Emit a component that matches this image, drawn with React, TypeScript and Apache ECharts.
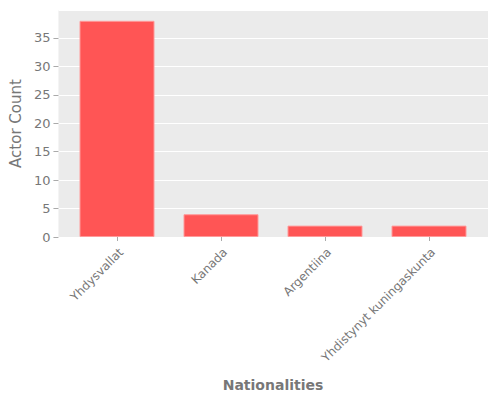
import * as echarts from "echarts";
import { useEffect, useRef } from "react";

const nationalities = ["Yhdysvallat", "Kanada", "Argentiina", "Yhdistynyt kuningaskunta"];
const actorCounts = [38, 4, 2, 2];
const yMax = 39.9;

const FONT = "DejaVu Sans";
const GRAY = "#777777";

export default function App() {
  const ref = useRef<HTMLDivElement | null>(null);

  useEffect(() => {
    if (!ref.current) {
      return;
    }
    const chart = echarts.init(ref.current, undefined, { renderer: "svg" });
    chart.setOption({
      animation: false,
      textStyle: { fontFamily: FONT },
      grid: [
        { show: true, backgroundColor: "#EBEBEB", borderWidth: 0, left: 58, right: 12, top: 10, bottom: 163 },
        { left: 65, right: 19, top: 10, bottom: 163 }
      ],
      xAxis: [
        { type: "category", gridIndex: 0, show: false, data: nationalities },
        {
          type: "category",
          gridIndex: 1,
          data: nationalities,
          name: "Nationalities",
          nameLocation: "middle",
          nameGap: 141,
          nameTextStyle: { fontFamily: FONT, fontSize: 14, fontWeight: "bold", color: GRAY },
          axisLine: { show: false },
          axisTick: { show: true, alignWithLabel: true, length: 4, lineStyle: { color: "#aaaaaa" } },
          axisLabel: {
            rotate: 45,
            fontFamily: FONT,
            fontSize: 12,
            color: GRAY,
            margin: 9,
            interval: 0,
            verticalAlign: "top"
          }
        }
      ],
      yAxis: [
        {
          type: "value",
          gridIndex: 0,
          min: 0,
          max: yMax,
          interval: 5,
          name: "Actor Count",
          nameLocation: "middle",
          nameGap: 28,
          nameTextStyle: { fontFamily: FONT, fontSize: 15, color: GRAY },
          axisLine: { show: false },
          axisTick: { show: true, length: 5, lineStyle: { color: "#aaaaaa" } },
          axisLabel: {
            fontFamily: FONT,
            fontSize: 13,
            color: GRAY,
            margin: 8,
            showMaxLabel: false
          },
          splitLine: { show: true, lineStyle: { color: "#ffffff", width: 1 } }
        },
        { type: "value", gridIndex: 1, min: 0, max: yMax, show: false, splitLine: { show: false } }
      ],
      series: [
        {
          type: "bar",
          xAxisIndex: 1,
          yAxisIndex: 1,
          data: actorCounts,
          barWidth: 75,
          itemStyle: { color: "#FF5555", borderColor: "#FF9A9A", borderWidth: 1 }
        }
      ]
    });
    return () => {
      chart.dispose();
    };
  }, []);

  return <div ref={ref} style={{ width: 500, height: 400, position: "absolute", left: 0, top: 0 }} />;
}
